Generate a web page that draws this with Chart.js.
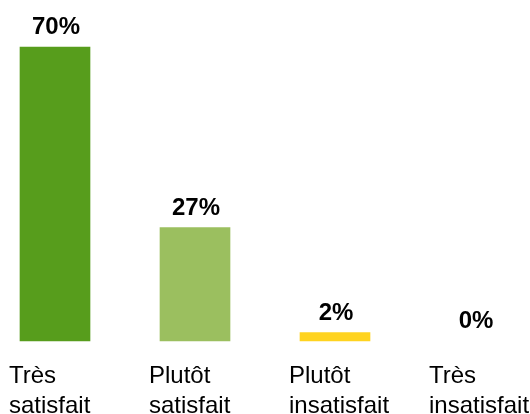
<!DOCTYPE html>
<html>
<head>
<meta charset="utf-8">
<script src="https://cdn.jsdelivr.net/npm/chart.js@4.4.1/dist/chart.umd.min.js"></script>
<style>
    html, body { margin: 0; padding: 0; background: #fff; }
    #box { width: 530px; height: 414px; }
</style>
</head>
<body>
<div id="box"><canvas id="satisfactionChart"></canvas></div>
<script>
// Données du graphique
const categories = [
    ['Très', 'satisfait'],
    ['Plutôt', 'satisfait'],
    ['Plutôt', 'insatisfait'],
    ['Très', 'insatisfait']
];
const percentages = [70, 27, 2, 0];
const barColors = ['#579d1c', '#9bbf5f', '#ffd320', 'rgba(0,0,0,0)'];

const fontFamily = '"Liberation Sans", Arial, sans-serif';

// Étiquettes de valeur au-dessus des barres
const valueLabels = {
    id: 'valueLabels',
    afterDatasetsDraw(chart) {
        const ctx = chart.ctx;
        const meta = chart.getDatasetMeta(0);
        ctx.save();
        ctx.font = 'bold 24px ' + fontFamily;
        ctx.fillStyle = '#000';
        ctx.textAlign = 'center';
        ctx.textBaseline = 'alphabetic';
        meta.data.forEach((bar, i) => {
            ctx.fillText(percentages[i] + '%', bar.x + 1, bar.y - 13);
        });
        ctx.restore();
    }
};

const ctx = document.getElementById('satisfactionChart').getContext('2d');
new Chart(ctx, {
    type: 'bar',
    data: {
        labels: categories,
        datasets: [{
            data: percentages,
            backgroundColor: barColors,
            borderWidth: 0,
            barThickness: 70,
            clip: false
        }]
    },
    options: {
        responsive: true,
        maintainAspectRatio: false,
        animation: false,
        layout: { padding: { left: 55, right: 55, top: 5, bottom: 0 } },
        plugins: {
            legend: { display: false },
            tooltip: { enabled: false }
        },
        scales: {
            x: {
                type: 'category',
                offset: false,
                grid: { display: false },
                border: { display: false },
                ticks: {
                    color: '#000',
                    font: { family: fontFamily, size: 24, lineHeight: 1.25 },
                    align: 'start',
                    labelOffset: -46,
                    padding: 12,
                    maxRotation: 0,
                    autoSkip: false
                },
                afterFit(scale) {
                    scale.height = 73;
                    scale.paddingLeft = 0;
                    scale.paddingRight = 0;
                }
            },
            y: {
                display: false,
                min: 0,
                max: 80
            }
        }
    },
    plugins: [valueLabels]
});
</script>
</body>
</html>
